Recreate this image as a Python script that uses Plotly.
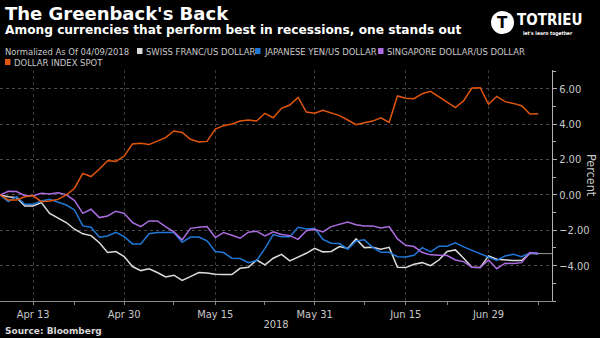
import pandas as pd
import plotly.graph_objects as go

# ---------------- data ----------------
dates = pd.bdate_range("2018-04-09", "2018-07-09")

swiss_franc = [0.00, -0.10, -0.15, -0.62, -0.62, -0.43, -1.04, -1.28, -1.56, -1.94,
               -2.20, -2.30, -2.70, -3.26, -3.20, -3.49, -4.05, -4.28, -4.18, -4.39,
               -4.64, -4.54, -4.84, -4.62, -4.39, -4.41, -4.49, -4.50, -4.50, -4.15,
               -4.09, -3.68, -3.96, -3.58, -3.36, -3.73, -3.53, -3.30, -3.02, -3.22,
               -3.20, -2.92, -3.03, -2.49, -2.98, -2.96, -3.07, -2.96, -4.09, -4.11,
               -3.92, -3.83, -4.00, -3.68, -3.20, -3.11, -3.58, -4.09, -4.11, -3.45,
               -3.64, -3.68, -3.71, -3.71, -3.30, -3.32]

japanese_yen = [0.00, -0.38, -0.10, -0.53, -0.53, -0.34, -0.25, -0.41, -0.57, -0.85,
                -1.75, -1.83, -2.39, -2.32, -2.11, -2.36, -2.77, -2.77, -2.19, -2.13,
                -2.11, -2.13, -2.68, -2.38, -2.38, -2.60, -3.20, -3.26, -3.58, -3.60,
                -3.83, -3.71, -3.02, -2.24, -2.36, -2.36, -1.83, -1.92, -1.90, -2.51,
                -2.73, -2.75, -3.07, -2.60, -2.54, -2.96, -3.24, -3.24, -3.49, -3.51,
                -3.41, -2.98, -3.22, -2.90, -2.90, -2.71, -2.94, -3.13, -3.32, -3.51,
                -3.71, -3.45, -3.36, -3.49, -3.28, -3.32]

singapore_dollar = [0.00, 0.21, 0.19, -0.04, -0.04, 0.09, 0.06, 0.13, 0.02, -0.32,
                    -1.04, -0.81, -1.28, -1.19, -0.92, -1.04, -1.56, -1.79, -1.47, -1.47,
                    -1.79, -2.09, -2.54, -1.89, -1.83, -1.79, -2.41, -2.13, -2.28, -2.45,
                    -2.11, -2.05, -2.32, -2.08, -2.24, -2.30, -2.51, -2.02, -1.94, -2.09,
                    -1.79, -1.66, -1.53, -1.68, -1.75, -1.75, -1.87, -1.79, -2.49, -2.85,
                    -2.92, -3.26, -3.39, -3.41, -3.43, -3.68, -3.77, -4.09, -4.11, -3.68,
                    -4.17, -3.86, -3.88, -3.83, -3.26, -3.30]

dollar_index = [0.00, -0.28, -0.28, -0.10, -0.05, -0.38, -0.34, -0.25, 0.00, 0.38,
                1.22, 1.04, 1.47, 1.94, 1.90, 2.20, 2.88, 2.92, 2.85, 3.03,
                3.24, 3.62, 3.54, 3.15, 3.00, 3.03, 3.73, 3.92, 4.02, 4.18,
                4.24, 4.18, 4.62, 4.37, 4.90, 5.09, 5.52, 4.69, 4.62, 4.79,
                4.66, 4.49, 4.24, 3.98, 4.09, 4.18, 4.37, 4.11, 5.60, 5.47,
                5.45, 5.73, 5.86, 5.56, 5.22, 4.94, 5.33, 6.05, 6.07, 5.13,
                5.58, 5.28, 5.18, 5.05, 4.58, 4.60]

series_names = ["SWISS FRANC/US DOLLAR", "JAPANESE YEN/US DOLLAR",
                "SINGAPORE DOLLAR/US DOLLAR", "DOLLAR INDEX SPOT"]
series_values = [swiss_franc, japanese_yen, singapore_dollar, dollar_index]
series_colors = ["#dcdcdc", "#1f78d8", "#ab6de0", "#e2560c"]

x_tick_dates = ["2018-04-13", "2018-04-30", "2018-05-15", "2018-05-31",
                "2018-06-15", "2018-06-29"]
x_tick_labels = ["Apr 13", "Apr 30", "May 15", "May 31", "Jun 15", "Jun 29"]
x_minor_dates = ["2018-04-20", "2018-05-08", "2018-05-23", "2018-06-08",
                 "2018-06-22", "2018-07-09"]
y_tick_vals = [-4, -2, 0, 2, 4, 6]
x_range = ["2018-04-09", "2018-07-10 16:00"]
y_range = [-6.0, 7.07]

title = "The Greenback's Back"
subtitle = "Among currencies that perform best in recessions, one stands out"
normalized_note = "Normalized As Of 04/09/2018"
source = "Source: Bloomberg"

# ---------------- figure ----------------
W, H = 600, 338
ML, MR, MT, MB = 0, 48, 70, 37
PW, PH = W - ML - MR, H - MT - MB

def pxx(x):
    return (x - ML) / PW

def pxy(y):
    return (H - MB - y) / PH

NARROW = "Liberation Sans Narrow, DejaVu Sans Condensed, Roboto Condensed, Arial Narrow, Roboto, sans-serif"
BOLD = "DejaVu Sans, Verdana, sans-serif"

fig = go.Figure()

# last-value guide for the final series point (drawn under lines)
fig.add_trace(go.Scatter(
    x=[dates[-1], pd.Timestamp(x_range[1])],
    y=[swiss_franc[-1], swiss_franc[-1]],
    mode="lines", line=dict(color="#9a9a9a", width=1),
    showlegend=False, hoverinfo="skip"))

for name, vals, col in zip(series_names, series_values, series_colors):
    fig.add_trace(go.Scatter(
        x=dates, y=vals, name=name, mode="lines",
        line=dict(color=col, width=1.5), showlegend=False))

fig.update_layout(
    width=W, height=H,
    margin=dict(l=ML, r=MR, t=MT, b=MB),
    paper_bgcolor="black", plot_bgcolor="black",
    font=dict(family=NARROW, color="#c8c8c8", size=10),
    showlegend=False,
)

fig.update_xaxes(
    type="date", range=x_range,
    rangebreaks=[dict(bounds=["sat", "mon"])],
    tickmode="array", tickvals=x_tick_dates, ticktext=x_tick_labels,
    showgrid=True, gridcolor="#3a3a3a", griddash="dot", gridwidth=1,
    showline=True, linecolor="#8a8a8a", linewidth=1,
    ticks="outside", ticklen=3, tickcolor="#8a8a8a",
    tickfont=dict(family=NARROW, size=11, color="#c8c8c8"),
    minor=dict(tickmode="array", tickvals=x_minor_dates, ticks="outside",
               ticklen=3, tickcolor="#8a8a8a", showgrid=False),
    title=dict(text="2018", font=dict(family=NARROW, size=11, color="#c8c8c8"),
               standoff=0),
    zeroline=False,
)

fig.update_yaxes(
    side="right", range=y_range,
    tickmode="array", tickvals=y_tick_vals, tickformat=".2f",
    showgrid=True, gridcolor="#4a4a4a", griddash="dot", gridwidth=1,
    showline=True, linecolor="#b0b0b0", linewidth=1,
    ticks="outside", ticklen=4, tickcolor="#b0b0b0",
    tickfont=dict(family=NARROW, size=11, color="#c8c8c8"),
    minor=dict(dtick=1, ticks="outside", ticklen=3, tickcolor="#b0b0b0",
               showgrid=False),
    zeroline=False,
)

ann = []
shapes = []

# titles
ann.append(dict(text="<b>" + title + "</b>", x=pxx(3), y=pxy(13), xref="paper", yref="paper",
                xanchor="left", yanchor="middle", showarrow=False,
                font=dict(family=BOLD, size=18, color="white")))
ann.append(dict(text="<b>" + subtitle + "</b>", x=pxx(3), y=pxy(30), xref="paper", yref="paper",
                xanchor="left", yanchor="middle", showarrow=False,
                font=dict(family=BOLD, size=12.2, color="white")))

# legend
LEG = 9.4
ann.append(dict(text=normalized_note, x=pxx(3), y=pxy(51), xref="paper", yref="paper",
                xanchor="left", yanchor="middle", showarrow=False,
                font=dict(family=NARROW, size=LEG, color="#c8c8c8")))
legend_pos = [(137, 51), (255, 51), (378, 51), (5, 62)]
for (lx, ly), name, col in zip(legend_pos, series_names, series_colors):
    shapes.append(dict(type="rect", xref="paper", yref="paper",
                       x0=pxx(lx), x1=pxx(lx + 5.5), y0=pxy(ly + 3), y1=pxy(ly - 3),
                       fillcolor=col, line=dict(width=0)))
    ann.append(dict(text=name, x=pxx(lx + 7), y=pxy(ly), xref="paper", yref="paper",
                    xanchor="left", yanchor="middle", showarrow=False,
                    font=dict(family=NARROW, size=LEG, color="#c8c8c8")))

# y-axis title
ann.append(dict(text="Percent", x=pxx(592), y=pxy(175), xref="paper", yref="paper",
                xanchor="center", yanchor="middle", showarrow=False, textangle=90,
                font=dict(family=NARROW, size=12.5, color="#c8c8c8")))

# source
ann.append(dict(text="<b>" + source + "</b>", x=pxx(3), y=pxy(331), xref="paper", yref="paper",
                xanchor="left", yanchor="middle", showarrow=False,
                font=dict(family=BOLD, size=9, color="#d8d8d8")))

# logo
shapes.append(dict(type="circle", xref="paper", yref="paper",
                   x0=pxx(491), x1=pxx(514), y0=pxy(34), y1=pxy(11),
                   fillcolor="white", line=dict(width=0)))
ann.append(dict(text="<b>T</b>", x=pxx(502.5), y=pxy(23), xref="paper", yref="paper",
                xanchor="center", yanchor="middle", showarrow=False,
                font=dict(family=BOLD, size=15, color="black")))
ann.append(dict(text="<b>TOTRIEU</b>", x=pxx(515), y=pxy(20), xref="paper", yref="paper",
                xanchor="left", yanchor="middle", showarrow=False,
                font=dict(family=NARROW, size=15, color="white")))
ann.append(dict(text="<b>let's learn together</b>", x=pxx(521), y=pxy(33.5), xref="paper", yref="paper",
                xanchor="left", yanchor="middle", showarrow=False,
                font=dict(family=NARROW, size=5, color="white")))

fig.update_layout(annotations=ann, shapes=shapes)

fig.write_html("out.html")
